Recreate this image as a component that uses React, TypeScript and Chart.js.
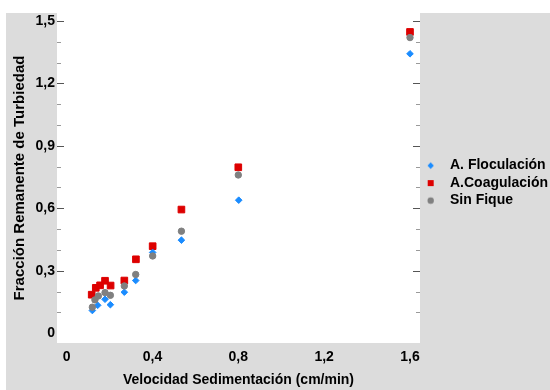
import React, { useEffect, useRef } from 'react';
import { Chart, registerables } from 'chart.js';

Chart.register(...registerables);

// ---- Data ----
const SERIES_NAMES = ['A. Floculación', 'A.Coagulación', 'Sin Fique'];

const X_FLOC = [0.12, 0.145, 0.179, 0.204, 0.269, 0.322, 0.401, 0.535, 0.802, 1.6];
const Y_FLOC = [0.109, 0.134, 0.163, 0.137, 0.197, 0.253, 0.388, 0.447, 0.639, 1.342];

const X_COAG = [0.117, 0.136, 0.156, 0.179, 0.205, 0.269, 0.323, 0.401, 0.535, 0.8, 1.6];
const Y_COAG = [0.185, 0.218, 0.23, 0.252, 0.229, 0.253, 0.355, 0.418, 0.594, 0.797, 1.447];

const X_SIN = [0.12, 0.132, 0.148, 0.179, 0.204, 0.269, 0.322, 0.401, 0.535, 0.8, 1.6];
const Y_SIN = [0.125, 0.16, 0.179, 0.195, 0.182, 0.227, 0.282, 0.371, 0.49, 0.76, 1.42];

const X_TICKS = [0, 0.4, 0.8, 1.2, 1.6];
const X_TICK_LABELS = ['0', '0,4', '0,8', '1,2', '1,6'];
const Y_TICKS = [0, 0.3, 0.6, 0.9, 1.2, 1.5];
const Y_TICK_LABELS = ['0', '0,3', '0,6', '0,9', '1,2', '1,5'];
const Y_MINOR_TICKS = [0.1, 0.2, 0.3, 0.4, 0.5, 0.6, 0.7, 0.8, 0.9, 1.0, 1.1, 1.2, 1.3, 1.4, 1.5];

const X_MIN = -0.0447;
const X_MAX = 1.6466;
const Y_MIN = -0.047;
const Y_MAX = 1.538;

const COLORS = ['#1a8cff', '#dd0000', '#808080'];
const FONT_FAMILY = "'Liberation Sans', Arial, Helvetica, sans-serif";
const TEXT_COLOR = '#000000';

function toPoints(xs: number[], ys: number[]) {
  return xs.map((x, i) => ({ x, y: ys[i] }));
}

function makeSprite(kind: string, color: string): HTMLCanvasElement {
  const c = document.createElement('canvas');
  c.width = 24;
  c.height = 12;
  const g = c.getContext('2d')!;
  const cx = 6.7;
  const cy = 6;
  g.fillStyle = color;
  g.beginPath();
  if (kind === 'diamond') {
    g.moveTo(cx - 3.2, cy);
    g.lineTo(cx, cy - 3.2);
    g.lineTo(cx + 3.2, cy);
    g.lineTo(cx, cy + 3.2);
    g.closePath();
  } else if (kind === 'square') {
    g.rect(cx - 3, cy - 3, 6, 6);
  } else {
    g.arc(cx, cy, 3.2, 0, Math.PI * 2);
  }
  g.fill();
  return c;
}

const backgroundPlugin = {
  id: 'panelBackground',
  beforeDraw(chart: any) {
    const { ctx, chartArea, width, height } = chart;
    ctx.save();
    ctx.fillStyle = '#dcdcdc';
    ctx.fillRect(6, chartArea.top, width - 6, height - chartArea.top);
    ctx.fillStyle = '#ffffff';
    ctx.fillRect(chartArea.left, 0, chartArea.right - chartArea.left, chartArea.bottom);
    ctx.restore();
  },
};

const innerTicksPlugin = {
  id: 'innerTicks',
  beforeDatasetsDraw(chart: any) {
    const { ctx, chartArea, scales } = chart;
    const y = scales.y;
    ctx.save();
    ctx.lineWidth = 1;
    Y_MINOR_TICKS.forEach((v) => {
      const py = Math.round(y.getPixelForValue(v)) + 0.5;
      const major = Y_TICKS.some((t) => Math.abs(t - v) < 1e-6);
      const len = major ? 7 : 4;
      ctx.strokeStyle = major ? '#555555' : '#9a9a9a';
      ctx.beginPath();
      ctx.moveTo(chartArea.left, py);
      ctx.lineTo(chartArea.left + len, py);
      ctx.moveTo(chartArea.right, py);
      ctx.lineTo(chartArea.right - len, py);
      ctx.stroke();
    });
    ctx.restore();
  },
};

export default function App() {
  const canvasRef = useRef<HTMLCanvasElement | null>(null);

  useEffect(() => {
    if (!canvasRef.current) return;
    const sprites = [
      makeSprite('diamond', COLORS[0]),
      makeSprite('square', COLORS[1]),
      makeSprite('circle', COLORS[2]),
    ];
    const tickFont = { family: FONT_FAMILY, size: 14, weight: 'bold' as const };

    const chart = new Chart(canvasRef.current, {
      type: 'scatter',
      data: {
        datasets: [
          {
            label: SERIES_NAMES[0],
            data: toPoints(X_FLOC, Y_FLOC),
            pointStyle: 'rectRot',
            pointRadius: 3.3,
            pointBackgroundColor: COLORS[0],
            pointBorderColor: COLORS[0],
            pointBorderWidth: 1,
            order: 1,
          },
          {
            label: SERIES_NAMES[1],
            data: toPoints(X_COAG, Y_COAG),
            pointStyle: 'rect',
            pointRadius: 4.7,
            pointBackgroundColor: COLORS[1],
            pointBorderColor: COLORS[1],
            pointBorderWidth: 1,
            order: 2,
          },
          {
            label: SERIES_NAMES[2],
            data: toPoints(X_SIN, Y_SIN),
            pointStyle: 'circle',
            pointRadius: 3.2,
            pointBackgroundColor: COLORS[2],
            pointBorderColor: COLORS[2],
            pointBorderWidth: 1,
            order: 0,
          },
        ],
      },
      options: {
        responsive: false,
        animation: false,
        devicePixelRatio: 1,
        layout: { padding: { left: 0, top: 13, right: 0, bottom: 0 } },
        plugins: {
          tooltip: { enabled: false },
          legend: {
            display: true,
            position: 'right',
            fullSize: false,
            maxWidth: 124.5,
            title: { display: true, text: '', font: { size: 8.5 }, padding: 0 },
            labels: {
              usePointStyle: true,
              boxWidth: 14,
              padding: 3.5,
              color: TEXT_COLOR,
              font: tickFont,
              generateLabels: () =>
                SERIES_NAMES.map((name, i) => ({
                  text: name,
                  fillStyle: COLORS[i],
                  strokeStyle: COLORS[i],
                  fontColor: TEXT_COLOR,
                  lineWidth: 0,
                  pointStyle: sprites[i],
                  hidden: false,
                  datasetIndex: i,
                })),
            },
          },
        },
        scales: {
          x: {
            type: 'linear',
            min: X_MIN,
            max: X_MAX,
            afterBuildTicks: (s: any) => {
              s.ticks = X_TICKS.map((v) => ({ value: v }));
            },
            afterFit: (s: any) => {
              s.height = 47;
            },
            ticks: {
              autoSkip: false,
              maxRotation: 0,
              padding: 6,
              color: TEXT_COLOR,
              font: tickFont,
              callback: (_v: any, i: number) => X_TICK_LABELS[i],
            },
            grid: { display: false, drawTicks: false },
            border: { display: false },
            title: {
              display: true,
              text: 'Velocidad Sedimentación (cm/min)',
              color: TEXT_COLOR,
              font: { family: FONT_FAMILY, size: 14, weight: 'bold' },
              padding: { top: 0, bottom: 1 },
            },
          },
          y: {
            type: 'linear',
            position: 'left',
            min: Y_MIN,
            max: Y_MAX,
            afterBuildTicks: (s: any) => {
              s.ticks = Y_TICKS.map((v) => ({ value: v }));
            },
            afterFit: (s: any) => {
              s.width = 57;
            },
            ticks: {
              autoSkip: false,
              padding: 2,
              color: TEXT_COLOR,
              font: tickFont,
              callback: (_v: any, i: number) => Y_TICK_LABELS[i],
            },
            grid: { display: false, drawTicks: false },
            border: { display: false },
            title: {
              display: true,
              text: 'Fracción Remanente de Turbiedad',
              color: TEXT_COLOR,
              font: { family: FONT_FAMILY, size: 15, weight: 'bold' },
              padding: { top: 11, bottom: 0 },
            },
          },
          ySpacer: {
            type: 'linear',
            position: 'right',
            display: true,
            afterFit: (s: any) => {
              s.width = 5.5;
            },
            ticks: { display: false },
            grid: { display: false, drawTicks: false },
            border: { display: false },
          },
        },
      },
      plugins: [backgroundPlugin, innerTicksPlugin],
    });
    return () => chart.destroy();
  }, []);

  return (
    <div style={{ position: 'absolute', left: 0, top: 0, width: 550, height: 390 }}>
      <canvas ref={canvasRef} width={550} height={390} style={{ display: 'block', width: 550, height: 390 }} />
    </div>
  );
}
